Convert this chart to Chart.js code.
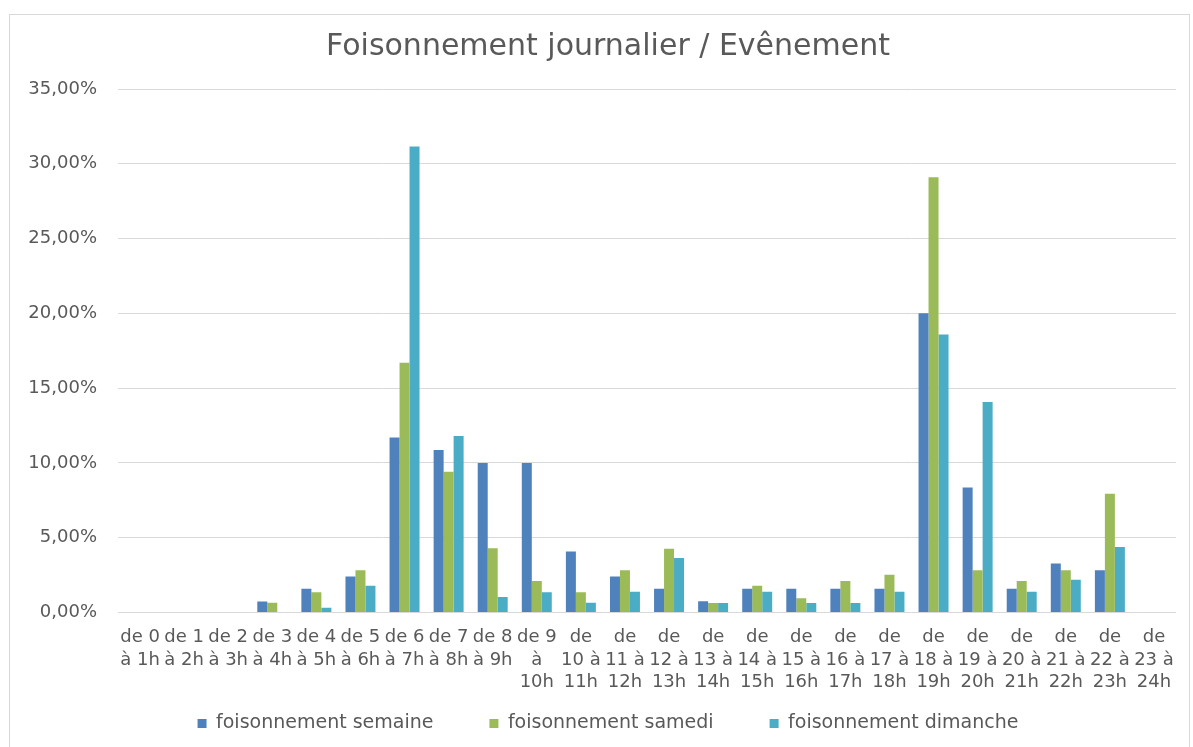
<!DOCTYPE html>
<html>
<head>
<meta charset="utf-8">
<script src="https://cdn.jsdelivr.net/npm/chart.js@4"></script>
<style>
  html, body { margin: 0; padding: 0; background: #ffffff; }
  #wrap { position: relative; width: 1193px; height: 747px; }
  canvas { display: block; }
</style>
</head>
<body>
<div id="wrap"><canvas id="c" width="1193" height="747"></canvas></div>
<script>
const categories = [
  ["de 0", "à 1h"], ["de 1", "à 2h"], ["de 2", "à 3h"], ["de 3", "à 4h"],
  ["de 4", "à 5h"], ["de 5", "à 6h"], ["de 6", "à 7h"], ["de 7", "à 8h"],
  ["de 8", "à 9h"], ["de 9", "à", "10h"],
  ["de", "10 à", "11h"], ["de", "11 à", "12h"], ["de", "12 à", "13h"],
  ["de", "13 à", "14h"], ["de", "14 à", "15h"], ["de", "15 à", "16h"],
  ["de", "16 à", "17h"], ["de", "17 à", "18h"], ["de", "18 à", "19h"],
  ["de", "19 à", "20h"], ["de", "20 à", "21h"], ["de", "21 à", "22h"],
  ["de", "22 à", "23h"], ["de", "23 à", "24h"]
];
const semaine  = [0, 0, 0, 0.74, 1.59, 2.41, 11.7, 10.87, 10.0, 10.0, 4.07, 2.41, 1.59, 0.76, 1.59, 1.59, 1.59, 1.59, 20.0, 8.36, 1.59, 3.27, 2.82, 0];
const samedi   = [0, 0, 0, 0.65, 1.36, 2.82, 16.7, 9.41, 4.29, 2.1, 1.36, 2.82, 4.27, 0.63, 1.79, 0.96, 2.1, 2.53, 29.1, 2.82, 2.1, 2.82, 7.94, 0];
const dimanche = [0, 0, 0, 0, 0.31, 1.79, 31.15, 11.8, 1.03, 1.36, 0.65, 1.39, 3.64, 0.63, 1.39, 0.63, 0.63, 1.39, 18.58, 14.08, 1.39, 2.19, 4.38, 0];
const seriesNames = ["foisonnement semaine", "foisonnement samedi", "foisonnement dimanche"];
const yTicks = [0, 5, 10, 15, 20, 25, 30, 35];
const titleText = "Foisonnement journalier / Evênement";

const textColor = "#595959";
const fontFam = "'DejaVu Sans', sans-serif";

const LEG_PAD = 56;      // horizontal gap between legend items
const LEG_H = 35;        // vertical footprint of the legend
const LEG_OFFSET = 6;    // distance from legend top to items
const SHIFT_X = 20;      // title / legend horizontal shift

const framePlugin = {
  id: 'frame',
  afterInit(chart) {
    const lg = chart.legend;
    if (lg) {
      const orig = lg.fit.bind(lg);
      lg.fit = function () { orig(); this.height = LEG_H; };
    }
  },
  afterLayout(chart) {
    const lg = chart.legend;
    if (lg) {
      lg.top -= (LEG_PAD - LEG_OFFSET);
      lg.left += SHIFT_X; lg.right += SHIFT_X;
    }
    const tb = chart.titleBlock;
    if (tb) { tb.left += SHIFT_X; tb.right += SHIFT_X; }
  },
  beforeDraw(chart) {
    const ctx = chart.ctx;
    ctx.save();
    ctx.fillStyle = '#ffffff';
    ctx.fillRect(0, 0, chart.width, chart.height);
    ctx.strokeStyle = '#d9d9d9';
    ctx.lineWidth = 1;
    ctx.strokeRect(9.5, 14.5, 1180, 760);
    ctx.restore();
  }
};

new Chart(document.getElementById('c'), {
  type: 'bar',
  data: {
    labels: categories,
    datasets: [
      { label: seriesNames[0], data: semaine, backgroundColor: '#4F81BD' },
      { label: seriesNames[1], data: samedi, backgroundColor: '#9BBB59' },
      { label: seriesNames[2], data: dimanche, backgroundColor: '#4BACC6' }
    ]
  },
  options: {
    responsive: false,
    animation: false,
    devicePixelRatio: 1,
    layout: { padding: { left: 0, right: 17, top: 0, bottom: 4 } },
    datasets: { bar: { categoryPercentage: 0.68, barPercentage: 1.0 } },
    plugins: {
      title: {
        display: true,
        text: titleText,
        color: textColor,
        font: { family: fontFam, size: 30, weight: 'normal', lineHeight: 1.2 },
        padding: { top: 29, bottom: 24 }
      },
      legend: {
        position: 'bottom',
        labels: {
          color: textColor,
          font: { family: fontFam, size: 19 },
          boxWidth: 9,
          boxHeight: 9,
          padding: LEG_PAD
        }
      },
      tooltip: { enabled: false }
    },
    scales: {
      x: {
        grid: { display: false, drawTicks: false },
        border: { display: false },
        ticks: {
          color: textColor,
          font: { family: fontFam, size: 18, lineHeight: 1.25 },
          padding: 14,
          maxRotation: 0,
          autoSkip: false
        }
      },
      y: {
        min: 0,
        max: 35,
        afterBuildTicks(scale) { scale.ticks = yTicks.map(v => ({ value: v })); },
        afterFit(scale) { scale.width = 118; },
        grid: { color: '#d9d9d9', drawTicks: false, lineWidth: 1 },
        border: { display: false },
        ticks: {
          color: textColor,
          font: { family: fontFam, size: 18 },
          padding: 21,
          callback: v => v.toFixed(2).replace('.', ',') + '%'
        }
      }
    }
  },
  plugins: [framePlugin]
});
</script>
</body>
</html>
